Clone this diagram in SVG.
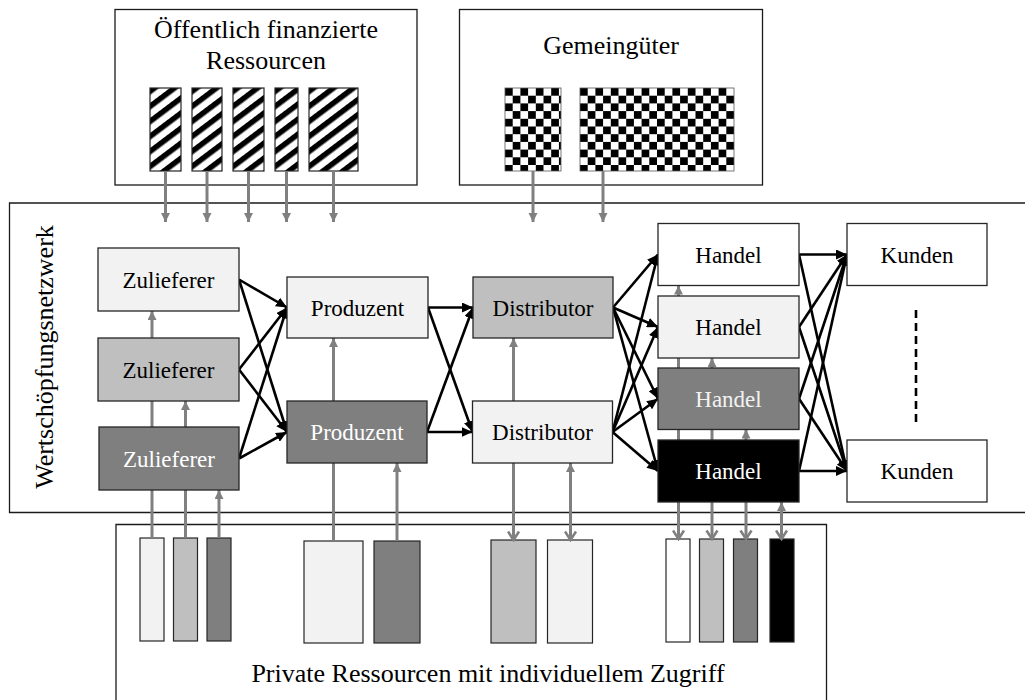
<svg xmlns="http://www.w3.org/2000/svg" width="1025" height="700" viewBox="0 0 1025 700">
<style>
  text { font-family: "Liberation Serif", "Times New Roman", serif; fill: #000; }
  .title { font-size: 26px; text-anchor: middle; }
  .lbl { font-size: 23px; text-anchor: middle; }
  .wt { fill: #fff; }
  .frame { fill: none; stroke: #1a1a1a; stroke-width: 1.3; }
  .node { stroke: #262626; stroke-width: 1.3; }
  .res { stroke: #262626; stroke-width: 1.2; }
  .g { stroke: #808080; stroke-width: 3; fill: none; }
  .b { stroke: #000; stroke-width: 2.6; fill: none; marker-end: url(#ab); }
  .up { marker-end: url(#ag); }
  .dn { marker-end: url(#ao); marker-start: url(#ag); }
</style>
<defs>
  <marker id="ab" markerUnits="userSpaceOnUse" markerWidth="12" markerHeight="10" refX="11" refY="5" orient="auto">
    <path d="M0,0 L11,5 L0,10 z" fill="#000"/>
  </marker>
  <marker id="ag" markerUnits="userSpaceOnUse" markerWidth="10" markerHeight="10" refX="9" refY="4.5" orient="auto-start-reverse">
    <path d="M0,0 L9,4.5 L0,9 z" fill="#808080"/>
  </marker>
  <marker id="ao" markerUnits="userSpaceOnUse" markerWidth="12" markerHeight="14" refX="10" refY="7" orient="auto">
    <path d="M1.5,1.5 L10,7 L1.5,12.5" fill="none" stroke="#808080" stroke-width="2.6"/>
  </marker>
  <pattern id="hatch" patternUnits="userSpaceOnUse" width="12" height="12" patternTransform="rotate(-37)">
    <rect width="12" height="12" fill="#fff"/>
    <rect width="12" height="5.5" fill="#000"/>
  </pattern>
  <pattern id="checker" patternUnits="userSpaceOnUse" width="15.4" height="15.4">
    <rect width="15.4" height="15.4" fill="#fff"/>
    <rect width="7.7" height="7.7" fill="#000"/>
    <rect x="7.7" y="7.7" width="7.7" height="7.7" fill="#000"/>
  </pattern>
</defs>

<!-- Frames -->
<g id="public-resources">
  <rect class="frame" x="115" y="9.5" width="302" height="175.5"/>
  <text class="title" x="266" y="37.5">Öffentlich finanzierte</text>
  <text class="title" x="266" y="68.5">Ressourcen</text>
  <g transform="translate(150,88)"><rect class="res" width="31" height="83" fill="url(#hatch)"/></g>
  <g transform="translate(192,88)"><rect class="res" width="30" height="83" fill="url(#hatch)"/></g>
  <g transform="translate(233,88)"><rect class="res" width="31" height="83" fill="url(#hatch)"/></g>
  <g transform="translate(275,88)"><rect class="res" width="23" height="83" fill="url(#hatch)"/></g>
  <g transform="translate(309,88)"><rect class="res" width="49" height="83" fill="url(#hatch)"/></g>
</g>
<g id="commons">
  <rect class="frame" x="459.5" y="9.5" width="303" height="175.5"/>
  <text class="title" x="611" y="53.5">Gemeingüter</text>
  <g transform="translate(505,88)"><rect width="56" height="83" fill="url(#checker)" stroke="#555" stroke-width="0.8"/></g>
  <g transform="translate(580,88)"><rect width="154" height="83" fill="url(#checker)" stroke="#555" stroke-width="0.8"/></g>
</g>
<g id="network-frame">
  <path class="frame" d="M1026,203 H9.5 V512.5 H1026" stroke="#404040"/>
  <text transform="rotate(-90 53 357)" x="53" y="357" style="font-size:26px;text-anchor:middle">Wertschöpfungsnetzwerk</text>
</g>
<g id="private-resources">
  <path class="frame" d="M116,701 V524.5 H826.5 V701" stroke="#404040"/>
  <text class="title" x="488" y="681.5">Private Ressourcen mit individuellem Zugriff</text>
  <rect class="res" x="140" y="538" width="24" height="103" fill="#f2f2f2"/>
  <rect class="res" x="173.5" y="538" width="24" height="103" fill="#bfbfbf"/>
  <rect class="res" x="207" y="538" width="24" height="103" fill="#7f7f7f"/>
  <rect class="res" x="304" y="541" width="59" height="102" fill="#f2f2f2"/>
  <rect class="res" x="374" y="541" width="46" height="102" fill="#7f7f7f"/>
  <rect class="res" x="491" y="540" width="45" height="103" fill="#bfbfbf"/>
  <rect class="res" x="547.5" y="540" width="45" height="103" fill="#f2f2f2"/>
  <rect class="res" x="666" y="539" width="24" height="103" fill="#fff"/>
  <rect class="res" x="699.5" y="539" width="24" height="103" fill="#bfbfbf"/>
  <rect class="res" x="733.5" y="539" width="24" height="103" fill="#7f7f7f"/>
  <rect class="res" x="770" y="539" width="24" height="103" fill="#000"/>
</g>

<!-- Connectors -->
<g id="connectors">
  <!-- resource access (gray) -->
  <line class="g up" x1="165.5" y1="171" x2="165.5" y2="222"/>
  <line class="g up" x1="207" y1="171" x2="207" y2="222"/>
  <line class="g up" x1="248.5" y1="171" x2="248.5" y2="222"/>
  <line class="g up" x1="286.5" y1="171" x2="286.5" y2="222"/>
  <line class="g up" x1="333.5" y1="171" x2="333.5" y2="222"/>
  <line class="g up" x1="533" y1="171" x2="533" y2="222"/>
  <line class="g up" x1="603" y1="171" x2="603" y2="222"/>

  <line class="g up" x1="152" y1="538" x2="152" y2="311"/>
  <line class="g up" x1="185.5" y1="538" x2="185.5" y2="401"/>
  <line class="g up" x1="219" y1="538" x2="219" y2="490"/>
  <line class="g up" x1="333.5" y1="541" x2="333.5" y2="338"/>
  <line class="g up" x1="397" y1="541" x2="397" y2="463"/>

  <line class="g dn" x1="513.5" y1="338" x2="513.5" y2="540"/>
  <line class="g dn" x1="570.5" y1="463" x2="570.5" y2="540"/>
  <line class="g dn" x1="678.5" y1="285.5" x2="678.5" y2="539"/>
  <line class="g dn" x1="712" y1="358" x2="712" y2="539"/>
  <line class="g dn" x1="746" y1="429.5" x2="746" y2="539"/>
  <line class="g dn" x1="781.5" y1="502" x2="781.5" y2="539"/>

  <!-- value flows (black) -->
  <line class="b" x1="239" y1="279.5" x2="287" y2="307.5"/>
  <line class="b" x1="239" y1="279.5" x2="287" y2="432"/>
  <line class="b" x1="239" y1="369.5" x2="287" y2="307.5"/>
  <line class="b" x1="239" y1="369.5" x2="287" y2="432"/>
  <line class="b" x1="239" y1="458.5" x2="287" y2="307.5"/>
  <line class="b" x1="239" y1="458.5" x2="287" y2="432"/>

  <line class="b" x1="428" y1="307.5" x2="473" y2="307.5"/>
  <line class="b" x1="428" y1="307.5" x2="472.5" y2="432"/>
  <line class="b" x1="427" y1="432" x2="473" y2="307.5"/>
  <line class="b" x1="427" y1="432" x2="472.5" y2="432"/>

  <line class="b" x1="613" y1="307.5" x2="658" y2="254.5"/>
  <line class="b" x1="613" y1="307.5" x2="658" y2="327"/>
  <line class="b" x1="613" y1="307.5" x2="658" y2="398.75"/>
  <line class="b" x1="613" y1="307.5" x2="658" y2="471"/>
  <line class="b" x1="612.5" y1="432" x2="658" y2="254.5"/>
  <line class="b" x1="612.5" y1="432" x2="658" y2="327"/>
  <line class="b" x1="612.5" y1="432" x2="658" y2="398.75"/>
  <line class="b" x1="612.5" y1="432" x2="658" y2="471"/>

  <line class="b" x1="799" y1="254.5" x2="847" y2="254.5"/>
  <line class="b" x1="799" y1="254.5" x2="847" y2="471"/>
  <line class="b" x1="799" y1="327" x2="847" y2="254.5"/>
  <line class="b" x1="799" y1="327" x2="847" y2="471"/>
  <line class="b" x1="799" y1="398.75" x2="847" y2="254.5"/>
  <line class="b" x1="799" y1="398.75" x2="847" y2="471"/>
  <line class="b" x1="799" y1="471" x2="847" y2="254.5"/>
  <line class="b" x1="799" y1="471" x2="847" y2="471"/>

  <line x1="916" y1="310" x2="916" y2="422" stroke="#000" stroke-width="2.6" stroke-dasharray="8 5"/>
</g>

<!-- Nodes -->
<g id="zulieferer-1"><rect class="node" x="98" y="248" width="141" height="63" fill="#f2f2f2"/><text class="lbl" x="168.5" y="288">Zulieferer</text></g>
<g id="zulieferer-2"><rect class="node" x="98" y="338" width="141" height="63" fill="#bfbfbf"/><text class="lbl" x="168.5" y="378">Zulieferer</text></g>
<g id="zulieferer-3"><rect class="node" x="99" y="427" width="140" height="63" fill="#7f7f7f"/><text class="lbl wt" x="169" y="467">Zulieferer</text></g>
<g id="produzent-1"><rect class="node" x="287" y="277" width="141" height="61" fill="#f2f2f2"/><text class="lbl" x="357.5" y="315.5">Produzent</text></g>
<g id="produzent-2"><rect class="node" x="287" y="401" width="140" height="62" fill="#7f7f7f"/><text class="lbl wt" x="357" y="440">Produzent</text></g>
<g id="distributor-1"><rect class="node" x="473" y="277" width="140" height="61" fill="#bfbfbf"/><text class="lbl" x="543" y="315.5">Distributor</text></g>
<g id="distributor-2"><rect class="node" x="472.5" y="401" width="140" height="62" fill="#f2f2f2"/><text class="lbl" x="542.5" y="440">Distributor</text></g>
<g id="handel-1"><rect class="node" x="658" y="223.5" width="141" height="62" fill="#fff"/><text class="lbl" x="728.5" y="262.5">Handel</text></g>
<g id="handel-2"><rect class="node" x="658" y="296" width="141" height="62" fill="#f2f2f2"/><text class="lbl" x="728.5" y="335">Handel</text></g>
<g id="handel-3"><rect class="node" x="658" y="368" width="141" height="61.5" fill="#7f7f7f"/><text class="lbl" x="728.5" y="407" style="fill:#f2f2f2">Handel</text></g>
<g id="handel-4"><rect class="node" x="658" y="440" width="141" height="62" fill="#000"/><text class="lbl wt" x="728.5" y="479">Handel</text></g>
<g id="kunden-1"><rect class="node" x="847" y="223.5" width="140" height="62" fill="#fff"/><text class="lbl" x="917" y="262.5">Kunden</text></g>
<g id="kunden-2"><rect class="node" x="847" y="440" width="140" height="62" fill="#fff"/><text class="lbl" x="917" y="479">Kunden</text></g>
</svg>
